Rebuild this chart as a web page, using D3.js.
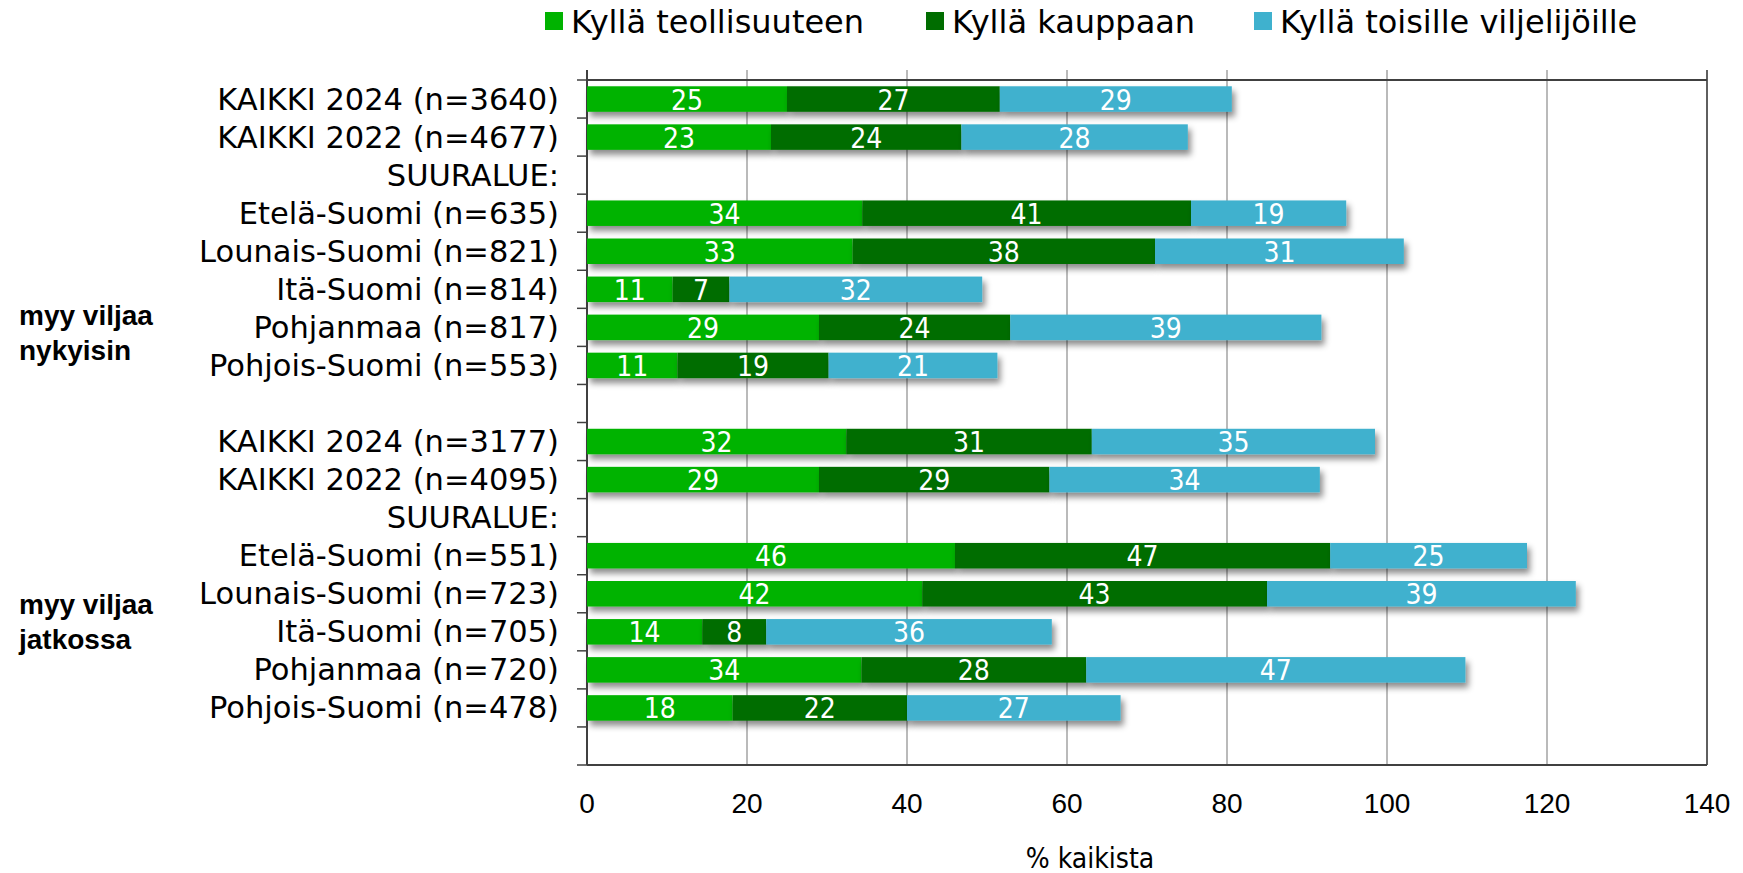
<!DOCTYPE html>
<html>
<head>
<meta charset="utf-8">
<script src="https://cdn.jsdelivr.net/npm/d3@7"></script>
<style>
  body { margin: 0; background: #fff; }
  svg { display: block; }
</style>
</head>
<body>
<svg id="chart"></svg>
<script>
// row labels (empty string = spacer row)
const rowLabels = [
  'KAIKKI 2024 (n=3640)', 'KAIKKI 2022 (n=4677)', 'SUURALUE:',
  'Etelä-Suomi (n=635)', 'Lounais-Suomi (n=821)', 'Itä-Suomi (n=814)',
  'Pohjanmaa (n=817)', 'Pohjois-Suomi (n=553)', '',
  'KAIKKI 2024 (n=3177)', 'KAIKKI 2022 (n=4095)', 'SUURALUE:',
  'Etelä-Suomi (n=551)', 'Lounais-Suomi (n=723)', 'Itä-Suomi (n=705)',
  'Pohjanmaa (n=720)', 'Pohjois-Suomi (n=478)', ''
];
const seriesNames = ['Kyllä teollisuuteen', 'Kyllä kauppaan', 'Kyllä toisille viljelijöille'];
const teollisuuteen = [25.0, 23.0, null, 34.4, 33.2, 10.7, 29.0, 11.3, null, 32.4, 29.0, null, 46.0, 41.9, 14.4, 34.3, 18.2, null];
const kauppaan      = [26.6, 23.8, null, 41.1, 37.8, 7.1, 23.9, 18.9, null, 30.7, 28.8, null, 46.9, 43.1, 8.0, 28.1, 21.8, null];
const viljelijoille = [29.0, 28.3, null, 19.4, 31.1, 31.6, 38.9, 21.1, null, 35.4, 33.8, null, 24.6, 38.6, 35.7, 47.4, 26.7, null];
const groupLabels = [['myy viljaa', 'nykyisin'], ['myy viljaa', 'jatkossa']];
const xTicks = [0, 20, 40, 60, 80, 100, 120, 140];
const colors = ['#00B300', '#006D00', '#3FB1CE'];

const W = 1743, H = 873;
const margin = { top: 80, right: 36, bottom: 108, left: 587 };
const width = W - margin.left - margin.right;
const height = H - margin.top - margin.bottom;

const table = rowLabels.map((lab, i) => ({
  id: i, label: lab,
  s0: teollisuuteen[i] || 0, s1: kauppaan[i] || 0, s2: viljelijoille[i] || 0,
  has: teollisuuteen[i] != null
}));

const svg = d3.select('#chart').attr('width', W).attr('height', H);

const defs = svg.append('defs');
const f = defs.append('filter').attr('id', 'shadow')
  .attr('x', '-5%').attr('y', '-30%').attr('width', '115%').attr('height', '180%');
f.append('feDropShadow').attr('dx', 3).attr('dy', 5).attr('stdDeviation', 3)
  .attr('flood-color', '#000').attr('flood-opacity', 0.45);

const g = svg.append('g').attr('transform', `translate(${margin.left},${margin.top})`);

const x = d3.scaleLinear().domain([0, 140]).range([0, width]);
const y = d3.scaleBand().domain(table.map(d => d.id)).range([0, height]).paddingInner(0.33).paddingOuter(0.165);

// gridlines
g.append('g').selectAll('line').data(xTicks.slice(1)).enter().append('line')
  .attr('x1', d => x(d)).attr('x2', d => x(d))
  .attr('y1', -10).attr('y2', height)
  .attr('stroke', '#8c8c8c').attr('stroke-width', 1.2);

// plot frame
g.append('line').attr('x1', 0).attr('x2', width).attr('y1', 0).attr('y2', 0)
  .attr('stroke', '#404040').attr('stroke-width', 2);
g.append('line').attr('x1', 0).attr('x2', width).attr('y1', height).attr('y2', height)
  .attr('stroke', '#404040').attr('stroke-width', 2);
g.append('line').attr('x1', width).attr('x2', width).attr('y1', -10).attr('y2', height)
  .attr('stroke', '#404040').attr('stroke-width', 1.5);

// left axis with row boundary ticks
const step = y.step();
g.append('g').selectAll('line').data(d3.range(rowLabels.length + 1)).enter().append('line')
  .attr('x1', -10).attr('x2', 0)
  .attr('y1', d => d * step).attr('y2', d => d * step)
  .attr('stroke', '#404040').attr('stroke-width', 1.5);
g.append('line').attr('x1', 0).attr('x2', 0).attr('y1', -10).attr('y2', height)
  .attr('stroke', '#404040').attr('stroke-width', 2);

// row labels
g.append('g').selectAll('text').data(table).enter().append('text')
  .attr('x', -28).attr('y', d => y(d.id) + y.bandwidth() / 2)
  .attr('text-anchor', 'end').attr('dominant-baseline', 'central')
  .attr('font-family', 'DejaVu Sans').attr('font-size', 30.5)
  .attr('fill', '#000').text(d => d.label);

// stacked bars
const stack = d3.stack().keys(['s0', 's1', 's2'])(table.filter(d => d.has));
const bars = g.append('g');
stack.forEach((layer, k) => {
  bars.append('g').attr('fill', colors[k]).attr('filter', 'url(#shadow)')
    .selectAll('rect').data(layer).enter().append('rect')
    .attr('x', d => x(d[0])).attr('y', d => y(d.data.id))
    .attr('width', d => x(d[1]) - x(d[0])).attr('height', y.bandwidth());
});
stack.forEach((layer, k) => {
  bars.append('g').selectAll('text').data(layer).enter().append('text')
    .attr('x', d => (x(d[0]) + x(d[1])) / 2).attr('y', d => y(d.data.id) + y.bandwidth() / 2 + 1)
    .attr('text-anchor', 'middle').attr('dominant-baseline', 'central')
    .attr('font-family', 'DejaVu Sans Condensed, DejaVu Sans').attr('font-size', 28)
    .attr('fill', '#fff').text(d => Math.round(d[1] - d[0]));
});

// x tick labels
g.append('g').selectAll('text').data(xTicks).enter().append('text')
  .attr('x', d => x(d)).attr('y', height + 38)
  .attr('text-anchor', 'middle').attr('dominant-baseline', 'central')
  .attr('font-family', 'Liberation Sans, Arial').attr('font-size', 28)
  .text(d => d);

svg.append('text').attr('x', 1090).attr('y', 858)
  .attr('text-anchor', 'middle').attr('dominant-baseline', 'central')
  .attr('font-family', 'DejaVu Sans Condensed, DejaVu Sans').attr('font-size', 28)
  .text('% kaikista');

// group labels
const groupY = [[315, 350], [604, 639]];
groupLabels.forEach((lines, gi) => {
  lines.forEach((t, li) => {
    svg.append('text').attr('x', 19).attr('y', groupY[gi][li])
      .attr('dominant-baseline', 'central')
      .attr('font-family', 'Liberation Sans, Arial').attr('font-weight', 'bold').attr('font-size', 28)
      .text(t);
  });
});

// legend
const legendX = [545, 926, 1254];
const legend = svg.append('g');
seriesNames.forEach((name, i) => {
  legend.append('rect').attr('x', legendX[i]).attr('y', 12).attr('width', 18).attr('height', 18)
    .attr('fill', colors[i]);
  legend.append('text').attr('x', legendX[i] + 26).attr('y', 22)
    .attr('dominant-baseline', 'central')
    .attr('font-family', 'DejaVu Sans').attr('font-size', 32)
    .text(name);
});
</script>
</body>
</html>
